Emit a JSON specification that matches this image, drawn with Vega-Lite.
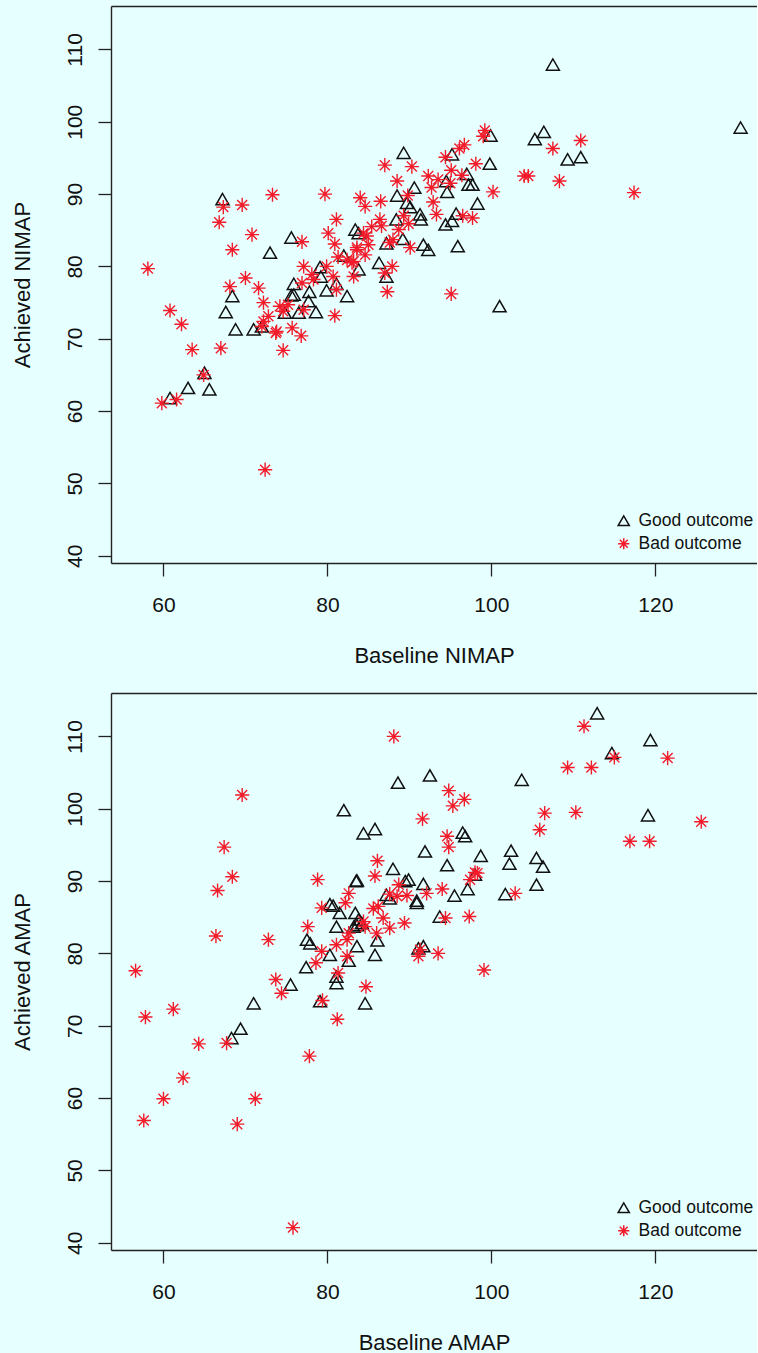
{
  "$schema": "https://vega.github.io/schema/vega-lite/v6.json",
  "background": "#E6FFFF",
  "padding": {"left": 11, "top": 6, "right": 0, "bottom": 0},
  "bounds": "flush",
  "spacing": 130,
  "config": {
    "view": {"stroke": null},
    "font": "Liberation Sans",
    "axis": {
      "grid": false,
      "domainColor": "#222222",
      "domainWidth": 1.4,
      "tickColor": "#222222",
      "tickWidth": 1.3,
      "tickSize": 13,
      "labelFont": "Liberation Sans",
      "labelFontSize": 21,
      "labelColor": "#111111",
      "titleFont": "Liberation Sans",
      "titleFontSize": 22,
      "titleFontWeight": "normal",
      "titleColor": "#111111"
    },
    "axisBottom": {"labelPadding": 18, "titlePadding": 30, "labelBaseline": "top"},
    "axisLeft": {"labelAngle": -90, "labelAlign": "center", "labelBaseline": "alphabetic", "labelPadding": 17, "titlePadding": 30}
  },
  "datasets": {
    "nimap": [
      {"baseline": 107.5, "achieved": 107.9, "outcome": "Good outcome"},
      {"baseline": 130.4, "achieved": 99.2, "outcome": "Good outcome"},
      {"baseline": 106.4, "achieved": 98.6, "outcome": "Good outcome"},
      {"baseline": 105.3, "achieved": 97.6, "outcome": "Good outcome"},
      {"baseline": 89.3, "achieved": 95.7, "outcome": "Good outcome"},
      {"baseline": 99.9, "achieved": 98.1, "outcome": "Good outcome"},
      {"baseline": 109.3, "achieved": 94.8, "outcome": "Good outcome"},
      {"baseline": 110.9, "achieved": 95.1, "outcome": "Good outcome"},
      {"baseline": 99.8, "achieved": 94.2, "outcome": "Good outcome"},
      {"baseline": 95.2, "achieved": 95.5, "outcome": "Good outcome"},
      {"baseline": 97.0, "achieved": 92.8, "outcome": "Good outcome"},
      {"baseline": 97.2, "achieved": 91.3, "outcome": "Good outcome"},
      {"baseline": 97.7, "achieved": 91.3, "outcome": "Good outcome"},
      {"baseline": 94.6, "achieved": 90.3, "outcome": "Good outcome"},
      {"baseline": 94.5, "achieved": 91.8, "outcome": "Good outcome"},
      {"baseline": 90.6, "achieved": 90.9, "outcome": "Good outcome"},
      {"baseline": 88.5, "achieved": 89.8, "outcome": "Good outcome"},
      {"baseline": 89.7, "achieved": 88.8, "outcome": "Good outcome"},
      {"baseline": 90.1, "achieved": 88.2, "outcome": "Good outcome"},
      {"baseline": 91.3, "achieved": 87.2, "outcome": "Good outcome"},
      {"baseline": 91.4, "achieved": 86.5, "outcome": "Good outcome"},
      {"baseline": 98.3, "achieved": 88.7, "outcome": "Good outcome"},
      {"baseline": 95.7, "achieved": 87.3, "outcome": "Good outcome"},
      {"baseline": 95.2, "achieved": 86.3, "outcome": "Good outcome"},
      {"baseline": 94.4, "achieved": 85.8, "outcome": "Good outcome"},
      {"baseline": 88.4, "achieved": 86.5, "outcome": "Good outcome"},
      {"baseline": 87.2, "achieved": 83.2, "outcome": "Good outcome"},
      {"baseline": 89.2, "achieved": 83.8, "outcome": "Good outcome"},
      {"baseline": 91.7, "achieved": 83.0, "outcome": "Good outcome"},
      {"baseline": 92.3, "achieved": 82.3, "outcome": "Good outcome"},
      {"baseline": 95.9, "achieved": 82.8, "outcome": "Good outcome"},
      {"baseline": 86.3, "achieved": 80.5, "outcome": "Good outcome"},
      {"baseline": 87.2, "achieved": 78.6, "outcome": "Good outcome"},
      {"baseline": 101.0, "achieved": 74.5, "outcome": "Good outcome"},
      {"baseline": 83.8, "achieved": 79.6, "outcome": "Good outcome"},
      {"baseline": 67.2, "achieved": 89.3, "outcome": "Good outcome"},
      {"baseline": 75.6, "achieved": 84.0, "outcome": "Good outcome"},
      {"baseline": 73.0, "achieved": 81.9, "outcome": "Good outcome"},
      {"baseline": 83.4, "achieved": 85.1, "outcome": "Good outcome"},
      {"baseline": 83.8, "achieved": 84.6, "outcome": "Good outcome"},
      {"baseline": 82.0, "achieved": 81.5, "outcome": "Good outcome"},
      {"baseline": 79.1, "achieved": 79.9, "outcome": "Good outcome"},
      {"baseline": 79.2, "achieved": 78.6, "outcome": "Good outcome"},
      {"baseline": 75.9, "achieved": 77.6, "outcome": "Good outcome"},
      {"baseline": 75.6, "achieved": 76.0, "outcome": "Good outcome"},
      {"baseline": 75.9, "achieved": 76.1, "outcome": "Good outcome"},
      {"baseline": 77.8, "achieved": 76.5, "outcome": "Good outcome"},
      {"baseline": 79.9, "achieved": 76.7, "outcome": "Good outcome"},
      {"baseline": 81.1, "achieved": 77.6, "outcome": "Good outcome"},
      {"baseline": 82.4, "achieved": 75.9, "outcome": "Good outcome"},
      {"baseline": 68.4, "achieved": 75.9, "outcome": "Good outcome"},
      {"baseline": 67.6, "achieved": 73.7, "outcome": "Good outcome"},
      {"baseline": 77.7, "achieved": 75.2, "outcome": "Good outcome"},
      {"baseline": 74.8, "achieved": 73.6, "outcome": "Good outcome"},
      {"baseline": 76.5, "achieved": 73.6, "outcome": "Good outcome"},
      {"baseline": 78.6, "achieved": 73.7, "outcome": "Good outcome"},
      {"baseline": 68.8, "achieved": 71.3, "outcome": "Good outcome"},
      {"baseline": 71.0, "achieved": 71.3, "outcome": "Good outcome"},
      {"baseline": 72.0, "achieved": 71.7, "outcome": "Good outcome"},
      {"baseline": 65.0, "achieved": 65.3, "outcome": "Good outcome"},
      {"baseline": 63.0, "achieved": 63.2, "outcome": "Good outcome"},
      {"baseline": 65.6, "achieved": 63.0, "outcome": "Good outcome"},
      {"baseline": 60.8, "achieved": 61.8, "outcome": "Good outcome"},
      {"baseline": 99.2, "achieved": 98.8, "outcome": "Bad outcome"},
      {"baseline": 99.0, "achieved": 98.0, "outcome": "Bad outcome"},
      {"baseline": 96.7, "achieved": 96.8, "outcome": "Bad outcome"},
      {"baseline": 96.1, "achieved": 96.3, "outcome": "Bad outcome"},
      {"baseline": 94.4, "achieved": 95.1, "outcome": "Bad outcome"},
      {"baseline": 107.5, "achieved": 96.3, "outcome": "Bad outcome"},
      {"baseline": 110.9, "achieved": 97.4, "outcome": "Bad outcome"},
      {"baseline": 87.0, "achieved": 94.0, "outcome": "Bad outcome"},
      {"baseline": 90.3, "achieved": 93.8, "outcome": "Bad outcome"},
      {"baseline": 95.1, "achieved": 93.3, "outcome": "Bad outcome"},
      {"baseline": 96.4, "achieved": 92.6, "outcome": "Bad outcome"},
      {"baseline": 98.1, "achieved": 94.2, "outcome": "Bad outcome"},
      {"baseline": 92.3, "achieved": 92.5, "outcome": "Bad outcome"},
      {"baseline": 93.5, "achieved": 92.0, "outcome": "Bad outcome"},
      {"baseline": 95.0, "achieved": 91.5, "outcome": "Bad outcome"},
      {"baseline": 88.5, "achieved": 91.8, "outcome": "Bad outcome"},
      {"baseline": 92.7, "achieved": 90.9, "outcome": "Bad outcome"},
      {"baseline": 104.0, "achieved": 92.5, "outcome": "Bad outcome"},
      {"baseline": 104.5, "achieved": 92.5, "outcome": "Bad outcome"},
      {"baseline": 108.3, "achieved": 91.8, "outcome": "Bad outcome"},
      {"baseline": 100.2, "achieved": 90.3, "outcome": "Bad outcome"},
      {"baseline": 117.4, "achieved": 90.2, "outcome": "Bad outcome"},
      {"baseline": 86.5, "achieved": 89.0, "outcome": "Bad outcome"},
      {"baseline": 92.9, "achieved": 88.9, "outcome": "Bad outcome"},
      {"baseline": 93.3, "achieved": 87.2, "outcome": "Bad outcome"},
      {"baseline": 96.5, "achieved": 87.0, "outcome": "Bad outcome"},
      {"baseline": 97.7, "achieved": 86.7, "outcome": "Bad outcome"},
      {"baseline": 89.9, "achieved": 85.9, "outcome": "Bad outcome"},
      {"baseline": 88.7, "achieved": 85.1, "outcome": "Bad outcome"},
      {"baseline": 86.4, "achieved": 86.5, "outcome": "Bad outcome"},
      {"baseline": 86.6, "achieved": 85.6, "outcome": "Bad outcome"},
      {"baseline": 87.6, "achieved": 83.3, "outcome": "Bad outcome"},
      {"baseline": 88.0, "achieved": 83.7, "outcome": "Bad outcome"},
      {"baseline": 90.1, "achieved": 82.6, "outcome": "Bad outcome"},
      {"baseline": 87.9, "achieved": 80.0, "outcome": "Bad outcome"},
      {"baseline": 87.0, "achieved": 79.1, "outcome": "Bad outcome"},
      {"baseline": 87.3, "achieved": 76.5, "outcome": "Bad outcome"},
      {"baseline": 95.1, "achieved": 76.2, "outcome": "Bad outcome"},
      {"baseline": 84.0, "achieved": 89.5, "outcome": "Bad outcome"},
      {"baseline": 84.6, "achieved": 88.3, "outcome": "Bad outcome"},
      {"baseline": 89.8, "achieved": 89.8, "outcome": "Bad outcome"},
      {"baseline": 89.3, "achieved": 87.0, "outcome": "Bad outcome"},
      {"baseline": 85.4, "achieved": 85.5, "outcome": "Bad outcome"},
      {"baseline": 84.4, "achieved": 84.6, "outcome": "Bad outcome"},
      {"baseline": 84.8, "achieved": 84.2, "outcome": "Bad outcome"},
      {"baseline": 85.0, "achieved": 83.0, "outcome": "Bad outcome"},
      {"baseline": 83.6, "achieved": 82.6, "outcome": "Bad outcome"},
      {"baseline": 84.6, "achieved": 81.6, "outcome": "Bad outcome"},
      {"baseline": 83.0, "achieved": 80.5, "outcome": "Bad outcome"},
      {"baseline": 83.2, "achieved": 78.6, "outcome": "Bad outcome"},
      {"baseline": 73.3, "achieved": 89.9, "outcome": "Bad outcome"},
      {"baseline": 79.7, "achieved": 90.0, "outcome": "Bad outcome"},
      {"baseline": 67.3, "achieved": 88.2, "outcome": "Bad outcome"},
      {"baseline": 69.6, "achieved": 88.5, "outcome": "Bad outcome"},
      {"baseline": 66.8, "achieved": 86.1, "outcome": "Bad outcome"},
      {"baseline": 81.1, "achieved": 86.5, "outcome": "Bad outcome"},
      {"baseline": 70.8, "achieved": 84.4, "outcome": "Bad outcome"},
      {"baseline": 80.1, "achieved": 84.6, "outcome": "Bad outcome"},
      {"baseline": 76.9, "achieved": 83.4, "outcome": "Bad outcome"},
      {"baseline": 80.9, "achieved": 83.1, "outcome": "Bad outcome"},
      {"baseline": 68.4, "achieved": 82.3, "outcome": "Bad outcome"},
      {"baseline": 81.3, "achieved": 81.3, "outcome": "Bad outcome"},
      {"baseline": 82.4, "achieved": 80.9, "outcome": "Bad outcome"},
      {"baseline": 83.2, "achieved": 80.7, "outcome": "Bad outcome"},
      {"baseline": 83.6, "achieved": 82.3, "outcome": "Bad outcome"},
      {"baseline": 77.1, "achieved": 80.0, "outcome": "Bad outcome"},
      {"baseline": 78.1, "achieved": 78.9, "outcome": "Bad outcome"},
      {"baseline": 78.3, "achieved": 78.2, "outcome": "Bad outcome"},
      {"baseline": 79.9, "achieved": 80.0, "outcome": "Bad outcome"},
      {"baseline": 80.7, "achieved": 78.6, "outcome": "Bad outcome"},
      {"baseline": 76.9, "achieved": 77.7, "outcome": "Bad outcome"},
      {"baseline": 81.1, "achieved": 76.8, "outcome": "Bad outcome"},
      {"baseline": 70.0, "achieved": 78.4, "outcome": "Bad outcome"},
      {"baseline": 68.1, "achieved": 77.2, "outcome": "Bad outcome"},
      {"baseline": 71.6, "achieved": 77.0, "outcome": "Bad outcome"},
      {"baseline": 72.2, "achieved": 75.0, "outcome": "Bad outcome"},
      {"baseline": 74.2, "achieved": 74.5, "outcome": "Bad outcome"},
      {"baseline": 75.2, "achieved": 74.7, "outcome": "Bad outcome"},
      {"baseline": 74.6, "achieved": 73.8, "outcome": "Bad outcome"},
      {"baseline": 72.8, "achieved": 73.1, "outcome": "Bad outcome"},
      {"baseline": 72.2, "achieved": 72.4, "outcome": "Bad outcome"},
      {"baseline": 72.0, "achieved": 71.7, "outcome": "Bad outcome"},
      {"baseline": 77.1, "achieved": 74.0, "outcome": "Bad outcome"},
      {"baseline": 80.9, "achieved": 73.2, "outcome": "Bad outcome"},
      {"baseline": 73.8, "achieved": 71.0, "outcome": "Bad outcome"},
      {"baseline": 75.7, "achieved": 71.5, "outcome": "Bad outcome"},
      {"baseline": 76.8, "achieved": 70.4, "outcome": "Bad outcome"},
      {"baseline": 62.2, "achieved": 72.0, "outcome": "Bad outcome"},
      {"baseline": 63.5, "achieved": 68.5, "outcome": "Bad outcome"},
      {"baseline": 67.0, "achieved": 68.7, "outcome": "Bad outcome"},
      {"baseline": 74.6, "achieved": 68.4, "outcome": "Bad outcome"},
      {"baseline": 64.9, "achieved": 65.0, "outcome": "Bad outcome"},
      {"baseline": 58.1, "achieved": 79.7, "outcome": "Bad outcome"},
      {"baseline": 60.8, "achieved": 73.9, "outcome": "Bad outcome"},
      {"baseline": 59.8, "achieved": 61.1, "outcome": "Bad outcome"},
      {"baseline": 61.6, "achieved": 61.6, "outcome": "Bad outcome"},
      {"baseline": 73.7, "achieved": 70.8, "outcome": "Bad outcome"},
      {"baseline": 72.4, "achieved": 51.9, "outcome": "Bad outcome"}
    ],
    "amap": [
      {"baseline": 82.0, "achieved": 99.8, "outcome": "Good outcome"},
      {"baseline": 84.4, "achieved": 96.6, "outcome": "Good outcome"},
      {"baseline": 85.8, "achieved": 97.2, "outcome": "Good outcome"},
      {"baseline": 83.5, "achieved": 90.0, "outcome": "Good outcome"},
      {"baseline": 83.6, "achieved": 90.1, "outcome": "Good outcome"},
      {"baseline": 80.3, "achieved": 86.8, "outcome": "Good outcome"},
      {"baseline": 80.7, "achieved": 86.6, "outcome": "Good outcome"},
      {"baseline": 81.5, "achieved": 85.6, "outcome": "Good outcome"},
      {"baseline": 83.4, "achieved": 85.6, "outcome": "Good outcome"},
      {"baseline": 81.1, "achieved": 83.7, "outcome": "Good outcome"},
      {"baseline": 83.2, "achieved": 83.7, "outcome": "Good outcome"},
      {"baseline": 83.8, "achieved": 84.7, "outcome": "Good outcome"},
      {"baseline": 84.2, "achieved": 84.2, "outcome": "Good outcome"},
      {"baseline": 77.5, "achieved": 81.9, "outcome": "Good outcome"},
      {"baseline": 77.9, "achieved": 81.4, "outcome": "Good outcome"},
      {"baseline": 80.3, "achieved": 79.8, "outcome": "Good outcome"},
      {"baseline": 83.6, "achieved": 81.0, "outcome": "Good outcome"},
      {"baseline": 85.8, "achieved": 79.8, "outcome": "Good outcome"},
      {"baseline": 86.1, "achieved": 81.8, "outcome": "Good outcome"},
      {"baseline": 77.4, "achieved": 78.1, "outcome": "Good outcome"},
      {"baseline": 81.1, "achieved": 76.8, "outcome": "Good outcome"},
      {"baseline": 81.1, "achieved": 75.9, "outcome": "Good outcome"},
      {"baseline": 75.5, "achieved": 75.7, "outcome": "Good outcome"},
      {"baseline": 68.3, "achieved": 68.3, "outcome": "Good outcome"},
      {"baseline": 69.4, "achieved": 69.6, "outcome": "Good outcome"},
      {"baseline": 71.0, "achieved": 73.1, "outcome": "Good outcome"},
      {"baseline": 79.1, "achieved": 73.4, "outcome": "Good outcome"},
      {"baseline": 84.6, "achieved": 73.1, "outcome": "Good outcome"},
      {"baseline": 88.6, "achieved": 103.6, "outcome": "Good outcome"},
      {"baseline": 88.0, "achieved": 91.7, "outcome": "Good outcome"},
      {"baseline": 87.6, "achieved": 87.6, "outcome": "Good outcome"},
      {"baseline": 82.6, "achieved": 79.0, "outcome": "Good outcome"},
      {"baseline": 87.2, "achieved": 88.1, "outcome": "Good outcome"},
      {"baseline": 92.5, "achieved": 104.6, "outcome": "Good outcome"},
      {"baseline": 103.7, "achieved": 104.0, "outcome": "Good outcome"},
      {"baseline": 96.5, "achieved": 96.7, "outcome": "Good outcome"},
      {"baseline": 96.8, "achieved": 96.2, "outcome": "Good outcome"},
      {"baseline": 91.9, "achieved": 94.1, "outcome": "Good outcome"},
      {"baseline": 94.6, "achieved": 92.2, "outcome": "Good outcome"},
      {"baseline": 98.7, "achieved": 93.5, "outcome": "Good outcome"},
      {"baseline": 102.4, "achieved": 94.2, "outcome": "Good outcome"},
      {"baseline": 102.2, "achieved": 92.4, "outcome": "Good outcome"},
      {"baseline": 105.5, "achieved": 93.2, "outcome": "Good outcome"},
      {"baseline": 106.3, "achieved": 92.0, "outcome": "Good outcome"},
      {"baseline": 105.5, "achieved": 89.5, "outcome": "Good outcome"},
      {"baseline": 101.7, "achieved": 88.2, "outcome": "Good outcome"},
      {"baseline": 91.7, "achieved": 89.6, "outcome": "Good outcome"},
      {"baseline": 95.5, "achieved": 88.0, "outcome": "Good outcome"},
      {"baseline": 97.1, "achieved": 88.9, "outcome": "Good outcome"},
      {"baseline": 98.0, "achieved": 90.9, "outcome": "Good outcome"},
      {"baseline": 90.9, "achieved": 87.3, "outcome": "Good outcome"},
      {"baseline": 90.9, "achieved": 87.0, "outcome": "Good outcome"},
      {"baseline": 93.7, "achieved": 85.1, "outcome": "Good outcome"},
      {"baseline": 91.1, "achieved": 80.7, "outcome": "Good outcome"},
      {"baseline": 91.7, "achieved": 81.0, "outcome": "Good outcome"},
      {"baseline": 112.9, "achieved": 113.2, "outcome": "Good outcome"},
      {"baseline": 119.4, "achieved": 109.5, "outcome": "Good outcome"},
      {"baseline": 114.7, "achieved": 107.7, "outcome": "Good outcome"},
      {"baseline": 119.1, "achieved": 99.1, "outcome": "Good outcome"},
      {"baseline": 89.9, "achieved": 90.2, "outcome": "Good outcome"},
      {"baseline": 89.5, "achieved": 90.0, "outcome": "Good outcome"},
      {"baseline": 83.6, "achieved": 83.9, "outcome": "Good outcome"},
      {"baseline": 69.6, "achieved": 101.9, "outcome": "Bad outcome"},
      {"baseline": 67.4, "achieved": 94.7, "outcome": "Bad outcome"},
      {"baseline": 68.4, "achieved": 90.6, "outcome": "Bad outcome"},
      {"baseline": 66.6, "achieved": 88.7, "outcome": "Bad outcome"},
      {"baseline": 66.4, "achieved": 82.4, "outcome": "Bad outcome"},
      {"baseline": 72.8, "achieved": 81.9, "outcome": "Bad outcome"},
      {"baseline": 56.6, "achieved": 77.6, "outcome": "Bad outcome"},
      {"baseline": 78.8, "achieved": 90.2, "outcome": "Bad outcome"},
      {"baseline": 77.6, "achieved": 83.7, "outcome": "Bad outcome"},
      {"baseline": 79.3, "achieved": 86.3, "outcome": "Bad outcome"},
      {"baseline": 82.6, "achieved": 88.3, "outcome": "Bad outcome"},
      {"baseline": 82.2, "achieved": 87.0, "outcome": "Bad outcome"},
      {"baseline": 86.1, "achieved": 92.8, "outcome": "Bad outcome"},
      {"baseline": 85.8, "achieved": 90.7, "outcome": "Bad outcome"},
      {"baseline": 79.3, "achieved": 80.3, "outcome": "Bad outcome"},
      {"baseline": 78.6, "achieved": 78.7, "outcome": "Bad outcome"},
      {"baseline": 81.3, "achieved": 77.3, "outcome": "Bad outcome"},
      {"baseline": 73.7, "achieved": 76.4, "outcome": "Bad outcome"},
      {"baseline": 74.4, "achieved": 74.5, "outcome": "Bad outcome"},
      {"baseline": 84.7, "achieved": 75.4, "outcome": "Bad outcome"},
      {"baseline": 85.6, "achieved": 86.2, "outcome": "Bad outcome"},
      {"baseline": 57.8, "achieved": 71.2, "outcome": "Bad outcome"},
      {"baseline": 61.2, "achieved": 72.3, "outcome": "Bad outcome"},
      {"baseline": 64.3, "achieved": 67.5, "outcome": "Bad outcome"},
      {"baseline": 67.7, "achieved": 67.6, "outcome": "Bad outcome"},
      {"baseline": 62.4, "achieved": 62.8, "outcome": "Bad outcome"},
      {"baseline": 60.0, "achieved": 59.9, "outcome": "Bad outcome"},
      {"baseline": 57.6, "achieved": 56.9, "outcome": "Bad outcome"},
      {"baseline": 69.0, "achieved": 56.4, "outcome": "Bad outcome"},
      {"baseline": 71.2, "achieved": 59.9, "outcome": "Bad outcome"},
      {"baseline": 77.8, "achieved": 65.8, "outcome": "Bad outcome"},
      {"baseline": 81.2, "achieved": 70.9, "outcome": "Bad outcome"},
      {"baseline": 79.4, "achieved": 73.5, "outcome": "Bad outcome"},
      {"baseline": 75.8, "achieved": 42.1, "outcome": "Bad outcome"},
      {"baseline": 88.7, "achieved": 89.5, "outcome": "Bad outcome"},
      {"baseline": 87.6, "achieved": 88.2, "outcome": "Bad outcome"},
      {"baseline": 88.5, "achieved": 87.9, "outcome": "Bad outcome"},
      {"baseline": 86.2, "achieved": 86.5, "outcome": "Bad outcome"},
      {"baseline": 86.8, "achieved": 84.9, "outcome": "Bad outcome"},
      {"baseline": 87.6, "achieved": 83.5, "outcome": "Bad outcome"},
      {"baseline": 86.0, "achieved": 82.8, "outcome": "Bad outcome"},
      {"baseline": 84.4, "achieved": 84.4, "outcome": "Bad outcome"},
      {"baseline": 84.6, "achieved": 83.7, "outcome": "Bad outcome"},
      {"baseline": 82.6, "achieved": 82.8, "outcome": "Bad outcome"},
      {"baseline": 82.4, "achieved": 81.9, "outcome": "Bad outcome"},
      {"baseline": 81.1, "achieved": 81.2, "outcome": "Bad outcome"},
      {"baseline": 82.4, "achieved": 79.6, "outcome": "Bad outcome"},
      {"baseline": 94.8, "achieved": 102.5, "outcome": "Bad outcome"},
      {"baseline": 96.7, "achieved": 101.3, "outcome": "Bad outcome"},
      {"baseline": 95.3, "achieved": 100.4, "outcome": "Bad outcome"},
      {"baseline": 91.6, "achieved": 98.6, "outcome": "Bad outcome"},
      {"baseline": 106.5, "achieved": 99.4, "outcome": "Bad outcome"},
      {"baseline": 105.9, "achieved": 97.1, "outcome": "Bad outcome"},
      {"baseline": 94.6, "achieved": 96.2, "outcome": "Bad outcome"},
      {"baseline": 94.8, "achieved": 94.7, "outcome": "Bad outcome"},
      {"baseline": 98.0, "achieved": 91.2, "outcome": "Bad outcome"},
      {"baseline": 98.3, "achieved": 91.1, "outcome": "Bad outcome"},
      {"baseline": 97.4, "achieved": 90.2, "outcome": "Bad outcome"},
      {"baseline": 94.0, "achieved": 88.9, "outcome": "Bad outcome"},
      {"baseline": 92.1, "achieved": 88.3, "outcome": "Bad outcome"},
      {"baseline": 89.7, "achieved": 88.0, "outcome": "Bad outcome"},
      {"baseline": 102.9, "achieved": 88.3, "outcome": "Bad outcome"},
      {"baseline": 94.4, "achieved": 84.9, "outcome": "Bad outcome"},
      {"baseline": 97.3, "achieved": 85.1, "outcome": "Bad outcome"},
      {"baseline": 89.4, "achieved": 84.2, "outcome": "Bad outcome"},
      {"baseline": 91.3, "achieved": 80.5, "outcome": "Bad outcome"},
      {"baseline": 91.1, "achieved": 79.6, "outcome": "Bad outcome"},
      {"baseline": 93.5, "achieved": 80.0, "outcome": "Bad outcome"},
      {"baseline": 99.1, "achieved": 77.7, "outcome": "Bad outcome"},
      {"baseline": 111.3, "achieved": 111.4, "outcome": "Bad outcome"},
      {"baseline": 115.0, "achieved": 107.1, "outcome": "Bad outcome"},
      {"baseline": 121.5, "achieved": 107.0, "outcome": "Bad outcome"},
      {"baseline": 109.3, "achieved": 105.7, "outcome": "Bad outcome"},
      {"baseline": 112.2, "achieved": 105.7, "outcome": "Bad outcome"},
      {"baseline": 88.1, "achieved": 110.0, "outcome": "Bad outcome"},
      {"baseline": 110.3, "achieved": 99.5, "outcome": "Bad outcome"},
      {"baseline": 125.6, "achieved": 98.2, "outcome": "Bad outcome"},
      {"baseline": 116.9, "achieved": 95.5, "outcome": "Bad outcome"},
      {"baseline": 119.3, "achieved": 95.5, "outcome": "Bad outcome"}
    ]
  },
  "resolve": {"scale": {"color": "independent", "shape": "independent"}},
  "vconcat": [
    {
      "width": 646,
      "height": 557,
      "data": {"name": "nimap"},
      "encoding": {
        "y": {"field": "achieved", "type": "quantitative", "scale": {"domain": [39, 116], "nice": false, "zero": false}, "axis": {"values": [40, 50, 60, 70, 80, 90, 100, 110], "title": "Achieved NIMAP"}},
        "color": {"field": "outcome", "type": "nominal", "scale": {"domain": ["Good outcome", "Bad outcome"], "range": ["#111111", "#F21B2A"]}, "legend": {"orient": "none", "legendX": 504, "legendY": 506, "title": null, "labelFontSize": 17.5, "labelColor": "#111111", "symbolSize": 125, "symbolStrokeWidth": 1.5, "rowPadding": 4, "labelOffset": 6, "padding": 0}},
        "shape": {"field": "outcome", "type": "nominal", "scale": {"domain": ["Good outcome", "Bad outcome"], "range": ["triangle-up", "M-1,0L1,0M0,-1L0,1M-0.707,-0.707L0.707,0.707M-0.707,0.707L0.707,-0.707"]}, "legend": {"orient": "none", "legendX": 504, "legendY": 506, "title": null, "labelFontSize": 17.5, "labelColor": "#111111", "symbolSize": 125, "symbolStrokeWidth": 1.5, "rowPadding": 4, "labelOffset": 6, "padding": 0}}
      },
      "layer": [
        {
          "transform": [{"filter": "datum.outcome == 'Good outcome'"}],
          "mark": {"type": "point", "filled": false, "size": 170, "strokeWidth": 1.5, "opacity": 1},
          "encoding": {
            "x": {"field": "baseline", "type": "quantitative", "scale": {"domain": [53.6, 132.4], "nice": false, "zero": false}, "axis": {"values": [60, 80, 100, 120], "title": "Baseline NIMAP"}}
          }
        },
        {
          "transform": [{"filter": "datum.outcome == 'Bad outcome'"}],
          "mark": {"type": "point", "filled": false, "size": 200, "strokeWidth": 1.4, "opacity": 1},
          "encoding": {
            "x": {"field": "baseline", "type": "quantitative", "scale": {"domain": [53.6, 132.4], "nice": false, "zero": false}, "axis": {"orient": "top", "ticks": false, "labels": false, "title": null, "domain": true}}
          }
        }
      ],
      "resolve": {"axis": {"x": "independent"}}
    },
    {
      "width": 646,
      "height": 557,
      "data": {"name": "amap"},
      "encoding": {
        "y": {"field": "achieved", "type": "quantitative", "scale": {"domain": [39, 116], "nice": false, "zero": false}, "axis": {"values": [40, 50, 60, 70, 80, 90, 100, 110], "title": "Achieved AMAP"}},
        "color": {"field": "outcome", "type": "nominal", "scale": {"domain": ["Good outcome", "Bad outcome"], "range": ["#111111", "#F21B2A"]}, "legend": {"orient": "none", "legendX": 504, "legendY": 506, "title": null, "labelFontSize": 17.5, "labelColor": "#111111", "symbolSize": 125, "symbolStrokeWidth": 1.5, "rowPadding": 4, "labelOffset": 6, "padding": 0}},
        "shape": {"field": "outcome", "type": "nominal", "scale": {"domain": ["Good outcome", "Bad outcome"], "range": ["triangle-up", "M-1,0L1,0M0,-1L0,1M-0.707,-0.707L0.707,0.707M-0.707,0.707L0.707,-0.707"]}, "legend": {"orient": "none", "legendX": 504, "legendY": 506, "title": null, "labelFontSize": 17.5, "labelColor": "#111111", "symbolSize": 125, "symbolStrokeWidth": 1.5, "rowPadding": 4, "labelOffset": 6, "padding": 0}}
      },
      "layer": [
        {
          "transform": [{"filter": "datum.outcome == 'Good outcome'"}],
          "mark": {"type": "point", "filled": false, "size": 170, "strokeWidth": 1.5, "opacity": 1},
          "encoding": {
            "x": {"field": "baseline", "type": "quantitative", "scale": {"domain": [53.6, 132.4], "nice": false, "zero": false}, "axis": {"values": [60, 80, 100, 120], "title": "Baseline AMAP"}}
          }
        },
        {
          "transform": [{"filter": "datum.outcome == 'Bad outcome'"}],
          "mark": {"type": "point", "filled": false, "size": 200, "strokeWidth": 1.4, "opacity": 1},
          "encoding": {
            "x": {"field": "baseline", "type": "quantitative", "scale": {"domain": [53.6, 132.4], "nice": false, "zero": false}, "axis": {"orient": "top", "ticks": false, "labels": false, "title": null, "domain": true}}
          }
        }
      ],
      "resolve": {"axis": {"x": "independent"}}
    }
  ]
}
